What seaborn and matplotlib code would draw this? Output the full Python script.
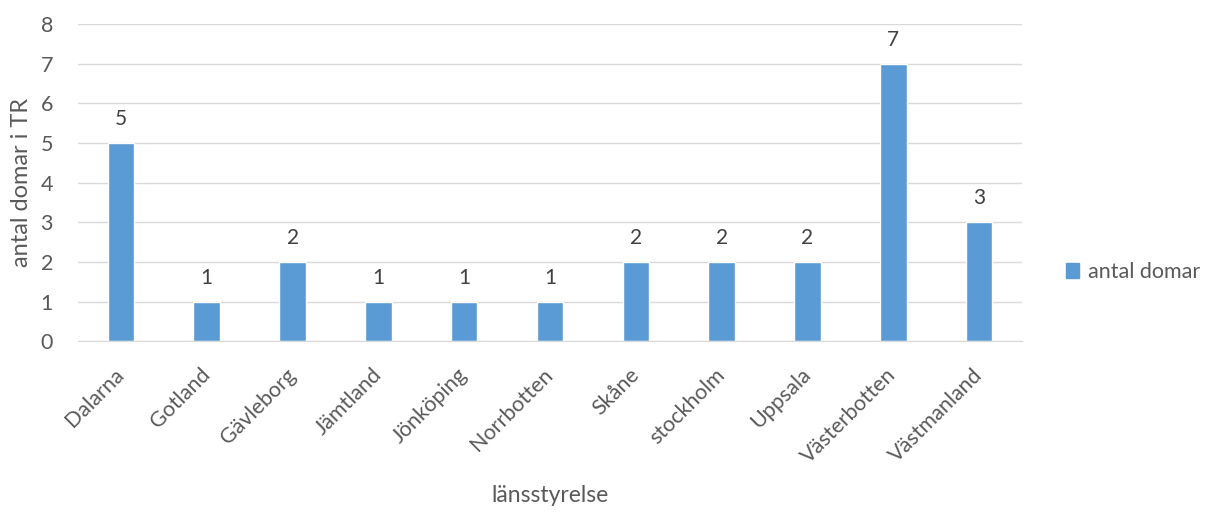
import pandas as pd
import matplotlib.pyplot as plt
import seaborn as sns
from matplotlib.patches import Patch

# data
lan = ["Dalarna", "Gotland", "Gävleborg", "Jämtland", "Jönköping", "Norrbotten",
       "Skåne", "stockholm", "Uppsala", "Västerbotten", "Västmanland"]
antal = [5, 1, 2, 1, 1, 1, 2, 2, 2, 7, 3]
yticks = [0, 1, 2, 3, 4, 5, 6, 7, 8]

df = pd.DataFrame({"länsstyrelse": lan, "antal domar": antal})

sns.set_style("white")
plt.rcParams["font.family"] = ["Lato", "DejaVu Sans"]
grey = "#595959"
blue = "#5B9BD5"

fig = plt.figure(figsize=(12.08, 5.13), dpi=100)
ax = fig.add_axes([0.0646, 0.335, 0.7814, 0.618])

sns.barplot(data=df, x="länsstyrelse", y="antal domar", color=blue,
            width=0.31, saturation=1, ax=ax)

for i, v in enumerate(antal):
    ax.text(i, v + 0.35, str(v), ha="center", va="bottom", fontsize=15, color="#404040")

ax.set_ylim(0, 8)
ax.set_xlim(-0.5, len(lan) - 0.5)
ax.set_yticks(yticks)
ax.yaxis.grid(True, color="#D9D9D9", linewidth=1)
ax.set_axisbelow(True)
for s in ["top", "right", "left"]:
    ax.spines[s].set_visible(False)
ax.spines["bottom"].set_color("#D9D9D9")
ax.tick_params(axis="both", length=0, labelsize=15.5, labelcolor=grey)
ax.tick_params(axis="y", pad=18)
ax.tick_params(axis="x", pad=22)
plt.setp(ax.get_xticklabels(), rotation=45, ha="right", va="center",
         rotation_mode="anchor")

ax.set_ylabel("antal domar i TR", fontsize=17, color=grey, labelpad=6)
ax.set_xlabel("länsstyrelse", fontsize=16.5, color=grey)
ax.xaxis.set_label_coords(0.5, -0.455)

fig.legend(handles=[Patch(color=blue, label="antal domar")],
           loc="center left", bbox_to_anchor=(0.866, 0.47), frameon=False,
           fontsize=15.5, labelcolor=grey, handlelength=0.65, handleheight=0.65,
           handletextpad=0.4)

fig.savefig("out.png", dpi=100)
